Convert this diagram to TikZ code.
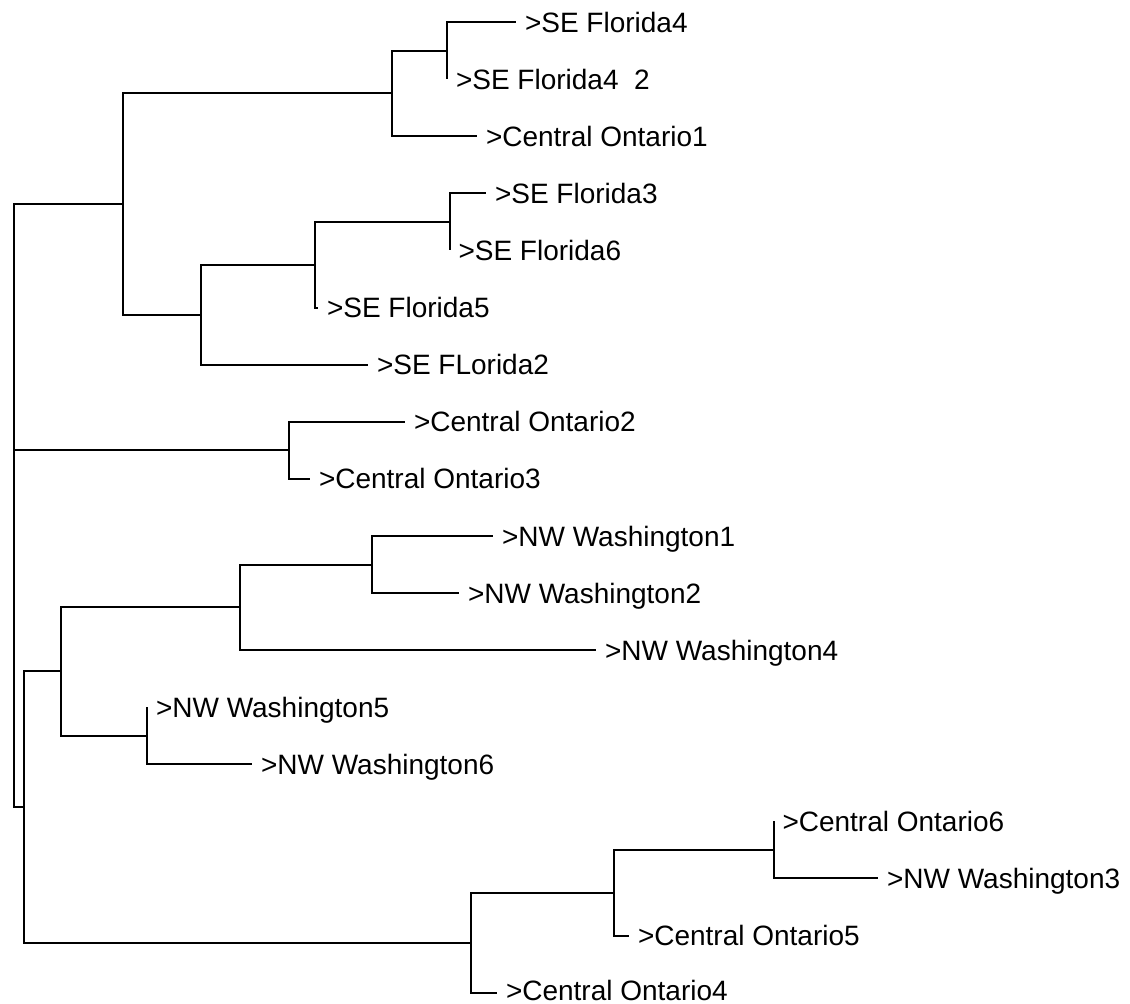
\documentclass[tikz,border=0pt]{standalone}
\usepackage{fontspec}
\setmainfont{Liberation Sans}
\usetikzlibrary{positioning}

\begin{document}
\begin{tikzpicture}[line width=2pt,
    branch/.style={to path={|- (\tikztotarget)}},
    tip/.style={inner sep=0pt, text height=20pt, text depth=0pt, font=\fontsize{28}{34}\selectfont}]
  \useasboundingbox (0pt, 0pt) rectangle (1130pt, -1004pt);
  % inner nodes
  \draw (13.5pt, -450.0pt)coordinate(root);
  \draw (122.5pt, -203.8pt)coordinate(nf);
  \draw (392.0pt, -93.2pt)coordinate(nb);
  \draw (447.0pt, -50.5pt)coordinate(na);
  \draw (201.0pt, -314.5pt)coordinate(ne);
  \draw (314.5pt, -264.5pt)coordinate(nd);
  \draw (449.5pt, -221.5pt)coordinate(nc);
  \draw (288.5pt, -450.0pt)coordinate(ng);
  \draw (23.5pt, -807.0pt)coordinate(no);
  \draw (60.5pt, -671.4pt)coordinate(nk);
  \draw (239.5pt, -607.2pt)coordinate(ni);
  \draw (372.0pt, -564.5pt)coordinate(nh);
  \draw (147.0pt, -735.5pt)coordinate(nj);
  \draw (471.0pt, -942.5pt)coordinate(nn);
  \draw (614.0pt, -892.5pt)coordinate(nm);
  \draw (773.5pt, -849.5pt)coordinate(nl);
  % leaves
  \draw (516.0pt, -22.0pt)coordinate(fl4);
  \draw (447.0pt, -79.0pt)coordinate(fl42);
  \draw (477.0pt, -136.0pt)coordinate(co1);
  \draw (486.0pt, -193.0pt)coordinate(fl3);
  \draw (449.5pt, -250.0pt)coordinate(fl6);
  \draw (318.0pt, -307.5pt)coordinate(fl5);
  \draw (368.0pt, -364.5pt)coordinate(fl2);
  \draw (405.0pt, -421.5pt)coordinate(co2);
  \draw (310.0pt, -478.5pt)coordinate(co3);
  \draw (493.0pt, -536.0pt)coordinate(nw1);
  \draw (459.0pt, -593.0pt)coordinate(nw2);
  \draw (596.0pt, -650.0pt)coordinate(nw4);
  \draw (147.0pt, -707.0pt)coordinate(nw5);
  \draw (252.0pt, -764.0pt)coordinate(nw6);
  \draw (773.5pt, -821.0pt)coordinate(co6);
  \draw (878.0pt, -878.0pt)coordinate(nw3);
  \draw (629.0pt, -935.5pt)coordinate(co5);
  \draw (497.0pt, -992.5pt)coordinate(co4);
  % labels
  \node[tip, right=8pt of fl4](lfl4){>SE Florida4};
  \node[tip, right=8pt of fl42](lfl42){>SE Florida4\ \ 2};
  \node[tip, right=8pt of co1](lco1){>Central Ontario1};
  \node[tip, right=8pt of fl3](lfl3){>SE Florida3};
  \node[tip, right=8pt of fl6](lfl6){>SE Florida6};
  \node[tip, right=8pt of fl5](lfl5){>SE Florida5};
  \node[tip, right=8pt of fl2](lfl2){>SE FLorida2};
  \node[tip, right=8pt of co2](lco2){>Central Ontario2};
  \node[tip, right=8pt of co3](lco3){>Central Ontario3};
  \node[tip, right=8pt of nw1](lnw1){>NW Washington1};
  \node[tip, right=8pt of nw2](lnw2){>NW Washington2};
  \node[tip, right=8pt of nw4](lnw4){>NW Washington4};
  \node[tip, right=8pt of nw5](lnw5){>NW Washington5};
  \node[tip, right=8pt of nw6](lnw6){>NW Washington6};
  \node[tip, right=8pt of co6](lco6){>Central Ontario6};
  \node[tip, right=8pt of nw3](lnw3){>NW Washington3};
  \node[tip, right=8pt of co5](lco5){>Central Ontario5};
  \node[tip, right=8pt of co4, yshift=2pt](lco4){>Central Ontario4};
  % branches
  \path[draw] (root) edge[branch] (nf) edge[branch] (ng) edge[branch] (no);
  \path[draw] (nf) edge[branch] (nb) edge[branch] (ne);
  \path[draw] (nb) edge[branch] (na) edge[branch] (co1);
  \path[draw] (na) edge[branch] (fl4) edge[branch] (fl42);
  \path[draw] (ne) edge[branch] (nd) edge[branch] (fl2);
  \path[draw] (nd) edge[branch] (nc) edge[branch] (fl5);
  \path[draw] (nc) edge[branch] (fl3) edge[branch] (fl6);
  \path[draw] (ng) edge[branch] (co2) edge[branch] (co3);
  \path[draw] (no) edge[branch] (nk) edge[branch] (nn);
  \path[draw] (nk) edge[branch] (ni) edge[branch] (nj);
  \path[draw] (ni) edge[branch] (nh) edge[branch] (nw4);
  \path[draw] (nh) edge[branch] (nw1) edge[branch] (nw2);
  \path[draw] (nj) edge[branch] (nw5) edge[branch] (nw6);
  \path[draw] (nn) edge[branch] (nm) edge[branch] (co4);
  \path[draw] (nm) edge[branch] (nl) edge[branch] (co5);
  \path[draw] (nl) edge[branch] (co6) edge[branch] (nw3);
\end{tikzpicture}
\end{document}
